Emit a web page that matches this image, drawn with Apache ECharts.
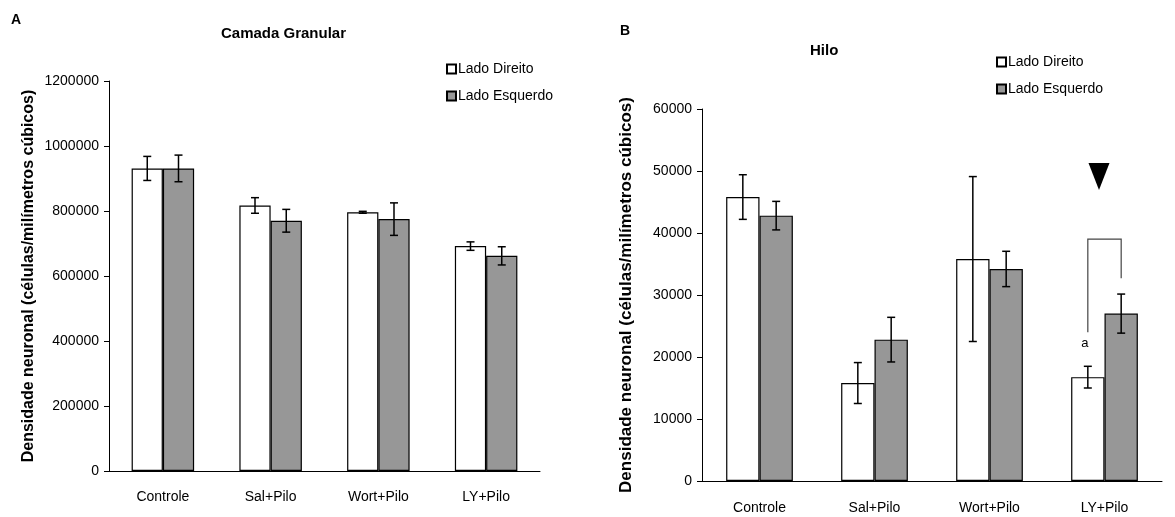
<!DOCTYPE html>
<html>
<head>
<meta charset="utf-8">
<script src="https://cdn.jsdelivr.net/npm/echarts@6/dist/echarts.min.js"></script>
<style>html,body{margin:0;padding:0;background:#fff;}#c{width:1175px;height:517px;}</style>
</head>
<body>
<div id="c"></div>
<script>
// ---- data ----
const categories = ['Controle', 'Sal+Pilo', 'Wort+Pilo', 'LY+Pilo'];
const seriesNames = ['Lado Direito', 'Lado Esquerdo'];
// Panel A: Camada Granular
const granDireito = [931000, 817000, 796000, 692000];
const granDireitoErr = [37000, 24000, 3000, 13000];
const granEsquerdo = [931000, 770000, 775000, 662000];
const granEsquerdoErr = [41000, 35000, 50000, 28000];
// Panel B: Hilo
const hiloDireito = [45800, 15800, 35800, 16750];
const hiloDireitoErr = [3600, 3300, 13300, 1750];
const hiloEsquerdo = [42800, 22800, 34200, 27000];
const hiloEsquerdoErr = [2300, 3600, 2850, 3150];
// Panel B annotations (LY+Pilo)
const bracketCategory = 3;
const bracketTop = 39000;
const bracketLeftEnd = 24000;
const bracketRightEnd = 32700;
const triangleValue = 49200;
const letterValue = 22200;
const letterText = 'a';

const FONT = "'Liberation Sans Narrow', 'Liberation Sans', Arial, sans-serif";
const GAP = 0.42;

function errData(vals, errs, side) {
  return vals.map((v, i) => [i, v, errs[i], side]);
}
function errRender(params, api) {
  const cat = api.value(0), val = api.value(1), err = api.value(2), side = api.value(3);
  const catW = api.size([1, 0])[0];
  const bw = catW * (1 - GAP) / 2;
  const c = api.coord([cat, val]);
  const x = c[0] + side * bw / 2;
  const top = api.coord([cat, val + err])[1];
  const bot = api.coord([cat, val - err])[1];
  const cap = 4;
  const st = {stroke: '#000', lineWidth: 1.5};
  return {type: 'group', children: [
    {type: 'line', shape: {x1: x, y1: top, x2: x, y2: bot}, style: st},
    {type: 'line', shape: {x1: x - cap, y1: top, x2: x + cap, y2: top}, style: st},
    {type: 'line', shape: {x1: x - cap, y1: bot, x2: x + cap, y2: bot}, style: st}
  ]};
}
function bracketRender(params, api) {
  const cat = api.value(0);
  const catW = api.size([1, 0])[0];
  const bw = catW * (1 - GAP) / 2;
  const cx = api.coord([cat, 0])[0];
  const xl = cx - bw / 2, xr = cx + bw / 2;
  const yt = api.coord([cat, api.value(1)])[1];
  const yl = api.coord([cat, api.value(2)])[1];
  const yr = api.coord([cat, api.value(3)])[1];
  const yTri = api.coord([cat, api.value(4)])[1];
  const yA = api.coord([cat, api.value(5)])[1];
  return {type: 'group', children: [
    {type: 'polyline', shape: {points: [[xl, yl], [xl, yt], [xr, yt], [xr, yr]]}, style: {stroke: '#444', lineWidth: 1.2, fill: null}},
    {type: 'polygon', shape: {points: [[cx - 16, yTri - 13], [cx + 5, yTri - 13], [cx - 5.5, yTri + 14]]}, style: {fill: '#000'}},
    {type: 'text', style: {text: letterText, x: xl - 3, y: yA, textAlign: 'center', textVerticalAlign: 'middle', font: '13px ' + FONT, fill: '#000'}}
  ]};
}

const axisLine = {lineStyle: {color: '#000', width: 1}};
const plain = v => String(v);
const chart = echarts.init(document.getElementById('c'));
chart.setOption({
  animation: false,
  backgroundColor: '#fff',
  textStyle: {fontFamily: FONT},
  title: [
    {text: 'A', left: 6, top: 8, textStyle: {fontSize: 14, fontWeight: 'bold', color: '#000', fontFamily: 'Liberation Sans, Arial'}},
    {text: 'Camada Granular', left: 216, top: 21, textStyle: {fontSize: 15, fontWeight: 'bold', color: '#000'}},
    {text: 'B', left: 615, top: 19, textStyle: {fontSize: 14, fontWeight: 'bold', color: '#000', fontFamily: 'Liberation Sans, Arial'}},
    {text: 'Hilo', left: 805, top: 38, textStyle: {fontSize: 15, fontWeight: 'bold', color: '#000'}}
  ],
  legend: [
    {orient: 'vertical', left: 441, top: 57, itemWidth: 9, itemHeight: 9, itemGap: 13, icon: 'rect',
     data: seriesNames, textStyle: {fontSize: 14, color: '#000', padding: [0, 0, 0, -3]}},
    {orient: 'vertical', left: 991, top: 50, itemWidth: 9, itemHeight: 9, itemGap: 13, icon: 'rect',
     data: seriesNames.map(n => n + ' '), formatter: n => n.trim(), textStyle: {fontSize: 14, color: '#000', padding: [0, 0, 0, -3]}}
  ],
  grid: [
    {left: 109, right: 635, top: 81, bottom: 46},
    {left: 702, right: 13, top: 109, bottom: 36}
  ],
  xAxis: [
    {type: 'category', gridIndex: 0, data: categories, axisLine, axisTick: {length: 5, lineStyle: {color: '#000'}},
     axisLabel: {color: '#000', fontSize: 14, margin: 19}},
    {type: 'category', gridIndex: 1, data: categories, axisLine, axisTick: {length: 5, lineStyle: {color: '#000'}},
     axisLabel: {color: '#000', fontSize: 14, margin: 20}}
  ],
  yAxis: [
    {type: 'value', gridIndex: 0, min: 0, max: 1200000, interval: 200000, axisLine: {show: true, lineStyle: {color: '#000'}},
     axisTick: {show: true, length: 5, lineStyle: {color: '#000'}}, splitLine: {show: false},
     axisLabel: {color: '#000', fontSize: 14, margin: 10, formatter: plain},
     name: 'Densidade neuronal (células/milímetros cúbicos)', nameLocation: 'middle', nameGap: 72, nameRotate: 90,
     nameTextStyle: {fontSize: 16, fontWeight: 'bold', color: '#000', fontFamily: 'Liberation Sans, Arial'}},
    {type: 'value', gridIndex: 1, min: 0, max: 60000, interval: 10000, axisLine: {show: true, lineStyle: {color: '#000'}},
     axisTick: {show: true, length: 5, lineStyle: {color: '#000'}}, splitLine: {show: false},
     axisLabel: {color: '#000', fontSize: 14, margin: 10, formatter: plain},
     name: 'Densidade neuronal (células/milímetros cúbicos)', nameLocation: 'middle', nameGap: 67, nameRotate: 90,
     nameTextStyle: {fontSize: 17, fontWeight: 'bold', color: '#000', fontFamily: 'Liberation Sans, Arial'}}
  ],
  series: [
    {name: seriesNames[0], type: 'bar', xAxisIndex: 0, yAxisIndex: 0, data: granDireito, barGap: '0%', barCategoryGap: (GAP * 100) + '%',
     itemStyle: {color: '#fff', borderColor: '#000', borderWidth: 1.2}},
    {name: seriesNames[1], type: 'bar', xAxisIndex: 0, yAxisIndex: 0, data: granEsquerdo, barGap: '0%', barCategoryGap: (GAP * 100) + '%',
     itemStyle: {color: '#979797', borderColor: '#000', borderWidth: 1.2}},
    {name: seriesNames[0] + ' ', type: 'bar', xAxisIndex: 1, yAxisIndex: 1, data: hiloDireito, barGap: '0%', barCategoryGap: (GAP * 100) + '%',
     itemStyle: {color: '#fff', borderColor: '#000', borderWidth: 1.2}},
    {name: seriesNames[1] + ' ', type: 'bar', xAxisIndex: 1, yAxisIndex: 1, data: hiloEsquerdo, barGap: '0%', barCategoryGap: (GAP * 100) + '%',
     itemStyle: {color: '#979797', borderColor: '#000', borderWidth: 1.2}},
    {type: 'custom', xAxisIndex: 0, yAxisIndex: 0, z: 5, renderItem: errRender, data: errData(granDireito, granDireitoErr, -1)},
    {type: 'custom', xAxisIndex: 0, yAxisIndex: 0, z: 5, renderItem: errRender, data: errData(granEsquerdo, granEsquerdoErr, 1)},
    {type: 'custom', xAxisIndex: 1, yAxisIndex: 1, z: 5, renderItem: errRender, data: errData(hiloDireito, hiloDireitoErr, -1)},
    {type: 'custom', xAxisIndex: 1, yAxisIndex: 1, z: 5, renderItem: errRender, data: errData(hiloEsquerdo, hiloEsquerdoErr, 1)},
    {type: 'custom', xAxisIndex: 1, yAxisIndex: 1, z: 5, renderItem: bracketRender,
     data: [[bracketCategory, bracketTop, bracketLeftEnd, bracketRightEnd, triangleValue, letterValue]]}
  ]
});
</script>
</body>
</html>
